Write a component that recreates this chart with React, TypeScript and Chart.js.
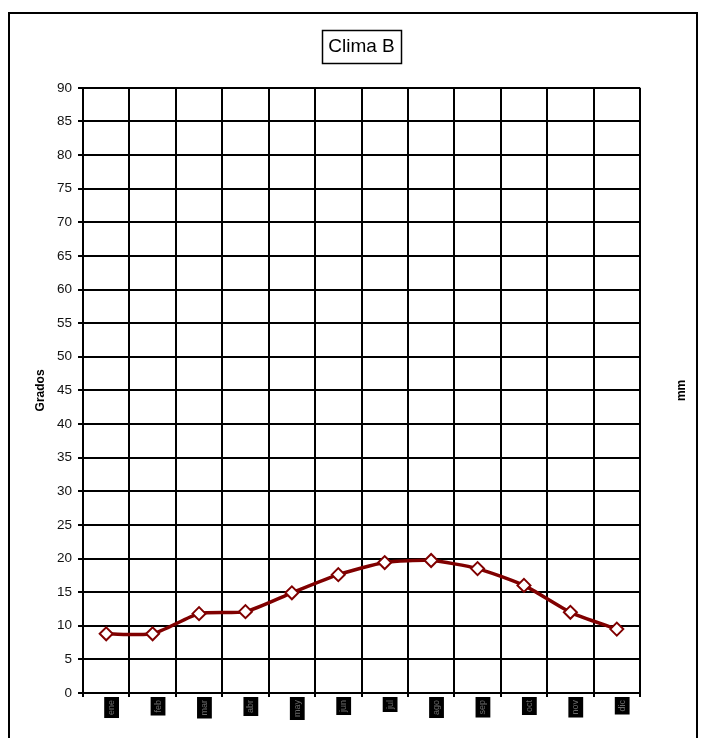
import React, { useEffect, useRef } from "react";
import { Chart, registerables } from "chart.js";

Chart.register(...registerables);

const months = ["ene", "feb", "mar", "abr", "may", "jun", "jul", "ago", "sep", "oct", "nov", "dic"];
const temperatures = [8.8, 8.8, 11.8, 12.1, 14.9, 17.6, 19.4, 19.7, 18.5, 16.0, 12.0, 9.5];
const yMin = 0;
const yMax = 90;
const yStep = 5;
const chartTitle = "Clima B";
const leftAxisTitle = "Grados";
const rightAxisTitle = "mm";

const FONT = "'Liberation Sans', Arial, sans-serif";

const framePlugin = {
  id: "framePlugin",
  beforeDraw(chart: any) {
    const ctx = chart.ctx;
    ctx.save();
    ctx.strokeStyle = "#000";
    ctx.lineWidth = 2;
    ctx.strokeRect(9, 13, 688, 800);
    ctx.restore();
  },
  afterDraw(chart: any) {
    const ctx = chart.ctx;
    const tb = chart.titleBlock;
    if (tb) {
      const opts = chart.options.plugins.title;
      const size = opts.font.size;
      ctx.save();
      ctx.font = `${size}px ${FONT}`;
      const w = ctx.measureText(chartTitle).width;
      const cx = (tb.left + tb.right) / 2;
      const cy = tb.top + opts.padding.top + (size * 1.2) / 2;
      ctx.strokeStyle = "#000";
      ctx.lineWidth = 1.5;
      ctx.strokeRect(Math.round(cx - w / 2 - 6) + 0.5, Math.round(cy - 16) + 0.5, Math.round(w + 12), 33);
      ctx.restore();
    }
    // right axis title, reading bottom-to-top like the left one
    const y2 = chart.scales.y2;
    if (y2) {
      ctx.save();
      ctx.font = `bold 12px ${FONT}`;
      ctx.fillStyle = "#000";
      ctx.textAlign = "center";
      ctx.textBaseline = "middle";
      ctx.translate(y2.right - 23, (y2.top + y2.bottom) / 2);
      ctx.rotate(-Math.PI / 2);
      ctx.fillText(rightAxisTitle, 0, 0);
      ctx.restore();
    }
  },
};

export default function App() {
  const ref = useRef<HTMLCanvasElement | null>(null);

  useEffect(() => {
    if (!ref.current) return;
    const chart = new Chart(ref.current, {
      type: "line",
      data: {
        labels: months,
        datasets: [
          {
            label: "Temperatura",
            data: temperatures,
            borderColor: "#800000",
            backgroundColor: "#ffffff",
            borderWidth: 3.5,
            tension: 0.2,
            pointStyle: "rectRot",
            pointRadius: 6.5,
            pointHoverRadius: 6.5,
            pointBorderWidth: 2,
            pointBackgroundColor: "#ffffff",
            pointBorderColor: "#800000",
            yAxisID: "y",
          },
        ],
      },
      options: {
        responsive: false,
        animation: false,
        layout: { padding: 0 },
        plugins: {
          legend: { display: false },
          tooltip: { enabled: false },
          title: {
            display: true,
            text: chartTitle,
            fullSize: false,
            color: "#000",
            font: { family: FONT, size: 19, weight: "normal" },
            padding: { top: 35, bottom: 30 },
          },
        },
        scales: {
          x: {
            type: "category",
            offset: true,
            grid: {
              display: true,
              offset: true,
              color: "#000",
              lineWidth: 2,
              drawTicks: true,
              tickLength: 4,
              tickColor: "#000",
            },
            border: { display: true, color: "#000", width: 2 },
            ticks: {
              autoSkip: false,
              minRotation: 90,
              maxRotation: 90,
              padding: 3,
              color: "#6a6a6a",
              font: { family: FONT, size: 9 },
              showLabelBackdrop: true,
              backdropColor: "#000",
              backdropPadding: { top: 2, bottom: 2, left: 3, right: 3 },
            },
            afterFit(scale: any) {
              scale.height = 45;
            },
          },
          y: {
            position: "left",
            min: yMin,
            max: yMax,
            grid: {
              color: "#000",
              lineWidth: 2,
              drawTicks: true,
              tickLength: 5,
              tickColor: "#000",
            },
            border: { display: true, color: "#000", width: 2 },
            ticks: {
              stepSize: yStep,
              padding: 6,
              color: "#111",
              font: { family: FONT, size: 13.5 },
            },
            title: {
              display: true,
              text: leftAxisTitle,
              color: "#000",
              font: { family: FONT, size: 12, weight: "bold" },
              padding: { top: 33, bottom: 0 },
            },
            afterFit(scale: any) {
              scale.width = 83;
            },
          },
          y2: {
            position: "right",
            min: yMin,
            max: yMax,
            grid: { display: false, drawTicks: false },
            border: { display: false },
            ticks: { display: false },
            title: { display: false },
            afterFit(scale: any) {
              scale.width = 65;
            },
          },
        },
      },
      plugins: [framePlugin],
    } as any);
    return () => chart.destroy();
  }, []);

  return (
    <div style={{ position: "absolute", left: 0, top: 0, width: 705, height: 738, background: "#fff" }}>
      <canvas ref={ref} width={705} height={738} style={{ width: 705, height: 738, display: "block" }} />
    </div>
  );
}
